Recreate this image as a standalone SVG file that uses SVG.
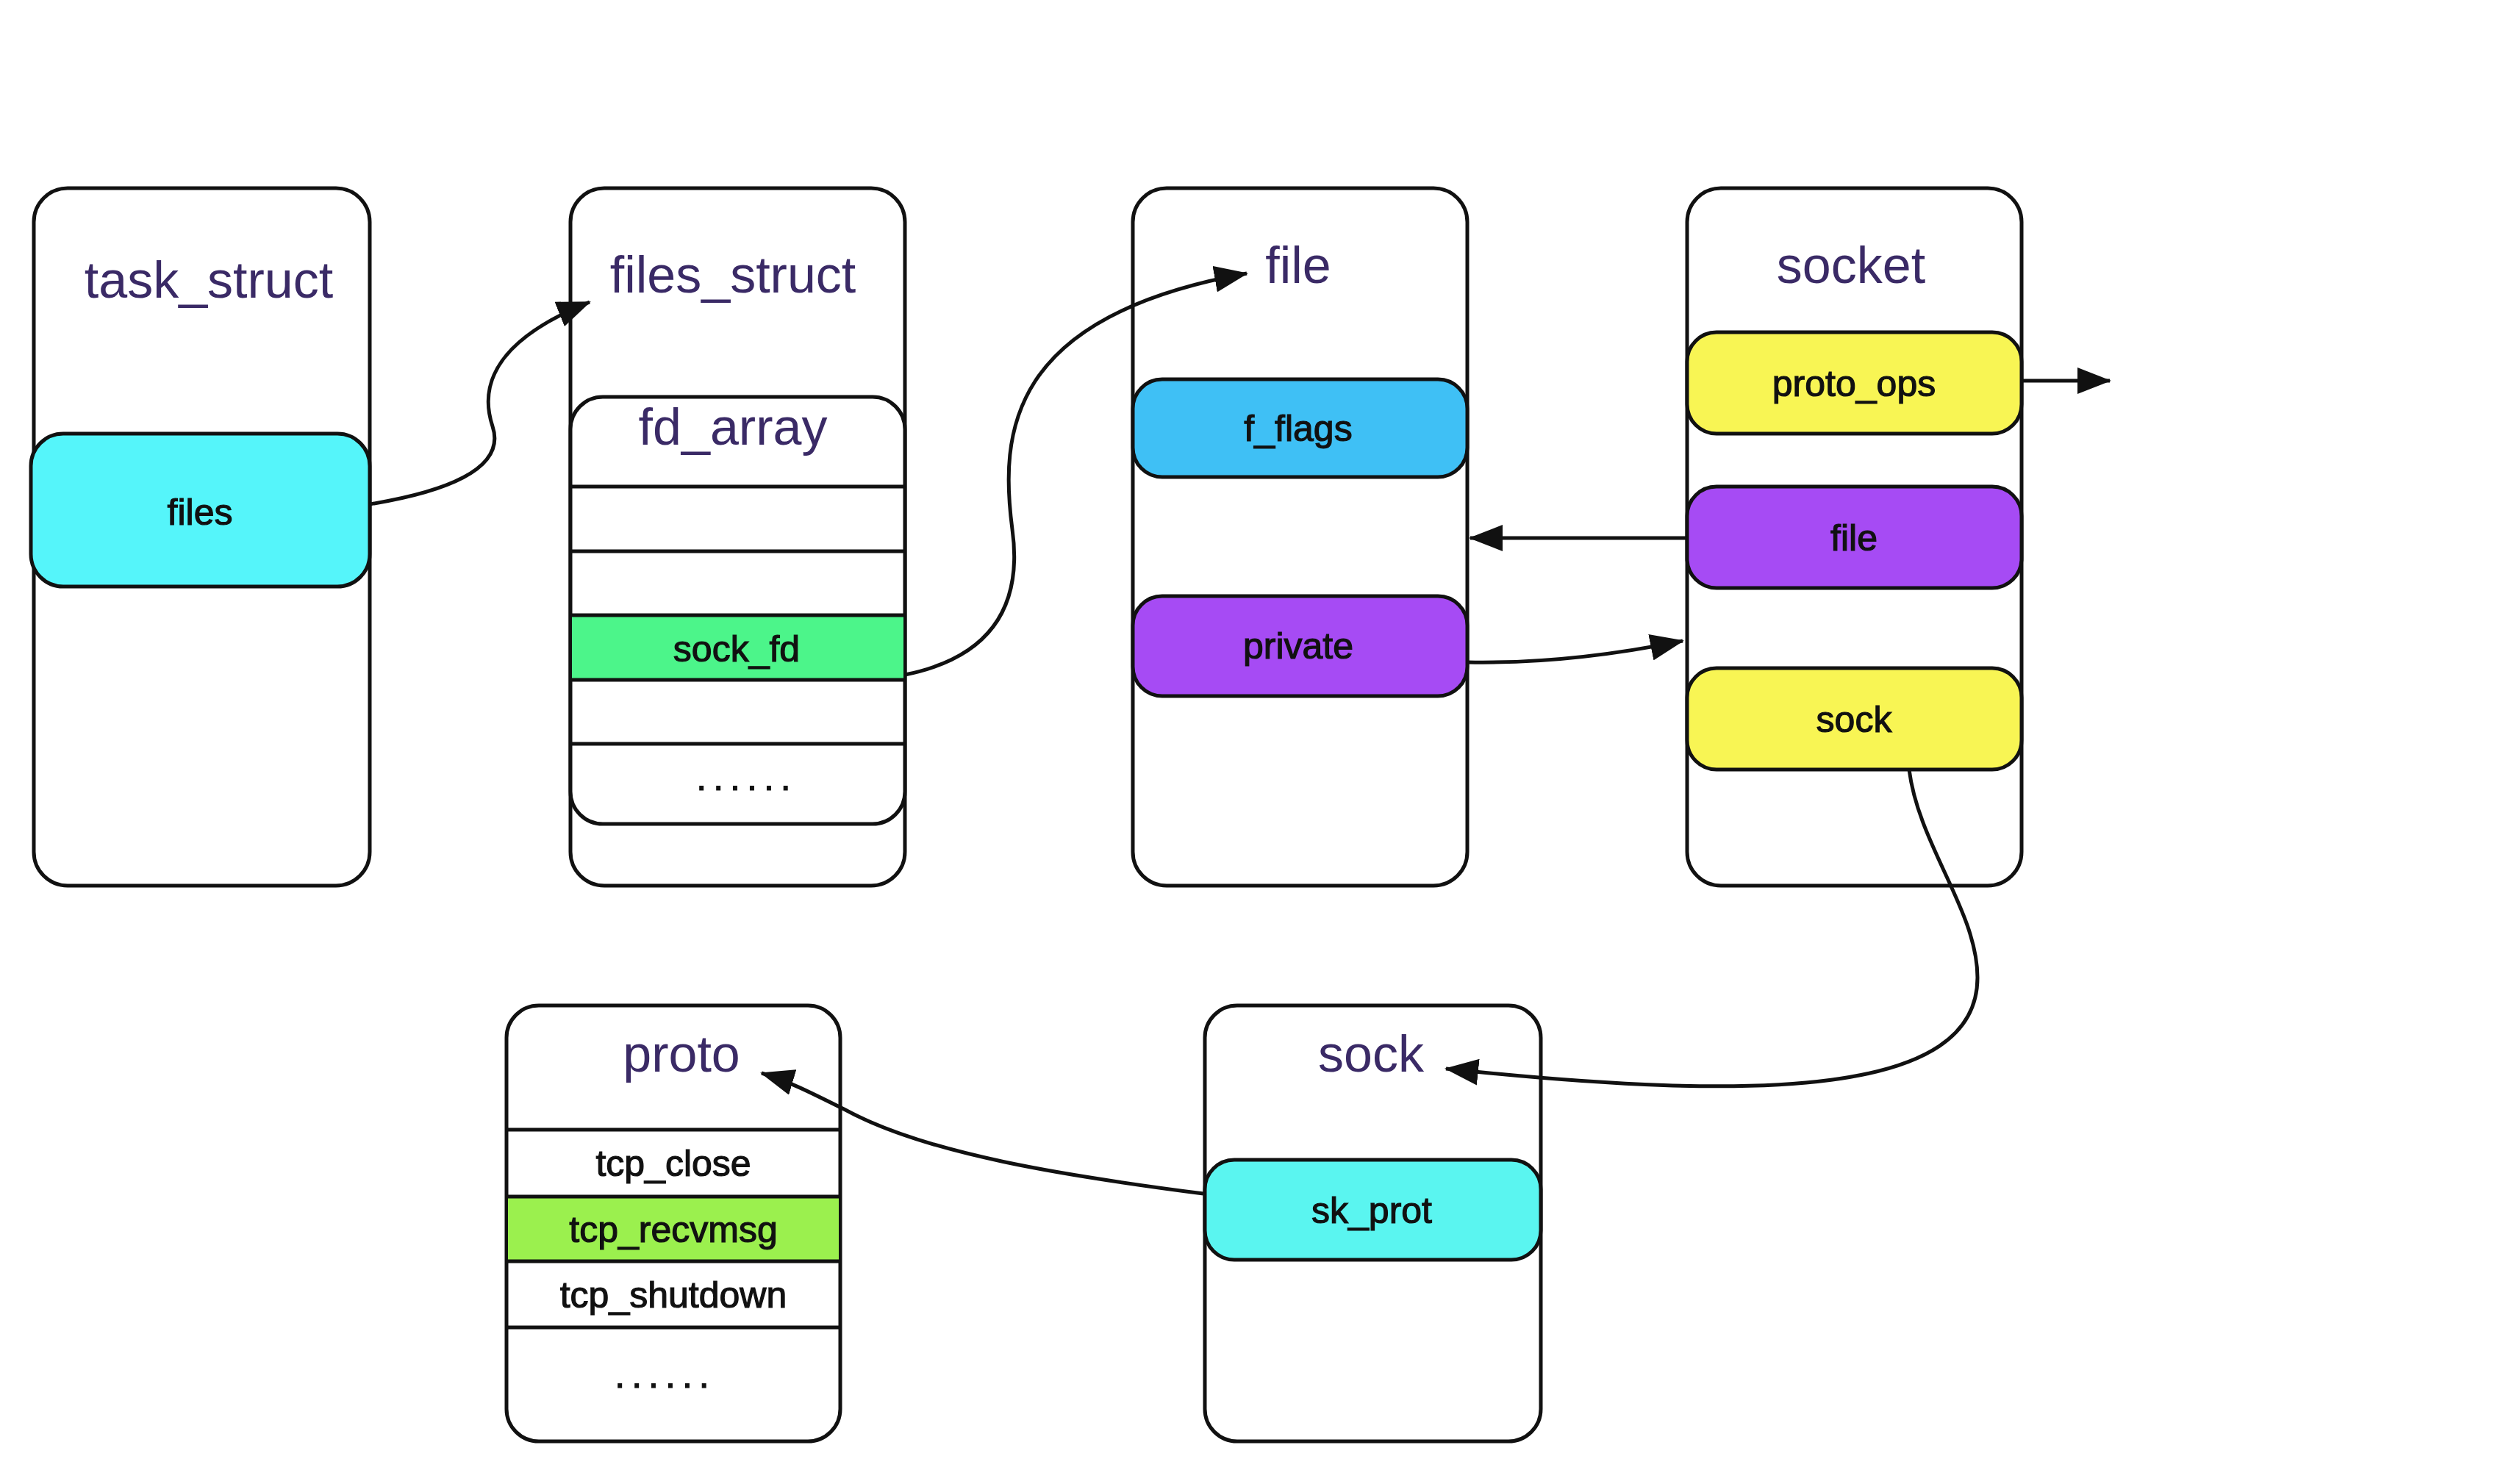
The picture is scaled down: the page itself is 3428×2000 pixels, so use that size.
<svg xmlns="http://www.w3.org/2000/svg" width="3428" height="2000" viewBox="0 0 3428 2000">
<style>
.box{fill:#fff;stroke:#111;stroke-width:5}
.line{stroke:#111;stroke-width:5;fill:none}
.title{font-family:"Liberation Sans",Arial,sans-serif;font-size:70px;fill:#3a2a66;text-anchor:middle}
.lbl{font-family:"Liberation Sans",Arial,sans-serif;font-size:50px;fill:#111;stroke:#111;stroke-width:1.2;text-anchor:middle}
.conn{stroke:#111;stroke-width:5;fill:none;marker-end:url(#ah)}
</style>
<defs>
<marker id="ah" markerUnits="userSpaceOnUse" markerWidth="48" markerHeight="36" refX="44" refY="18" orient="auto">
<path d="M0,0 L46,18 L0,36 z" fill="#111"/>
</marker>
</defs>
<rect width="3428" height="2000" fill="#fff"/>

<g id="task_struct">
<rect class="box" x="46" y="256" width="457" height="949" rx="46"/>
<text class="title" x="284" y="405">task_struct</text>
<rect class="box" x="42" y="590" width="461" height="208" rx="44" style="fill:#55f5fa"/>
<text class="lbl" x="272" y="714">files</text>
</g>

<g id="files_struct">
<rect class="box" x="776" y="256" width="455" height="949" rx="46"/>
<text class="title" x="997" y="398">files_struct</text>
<rect class="box" x="776" y="540" width="455" height="581" rx="44"/>
<text class="title" x="997" y="605">fd_array</text>
<rect x="778" y="837" width="451" height="88" fill="#4cf58a"/>
<line class="line" x1="776" y1="662" x2="1231" y2="662"/>
<line class="line" x1="776" y1="750" x2="1231" y2="750"/>
<line class="line" x1="776" y1="837" x2="1231" y2="837"/>
<line class="line" x1="776" y1="925" x2="1231" y2="925"/>
<line class="line" x1="776" y1="1012" x2="1231" y2="1012"/>
<text class="lbl" x="1002" y="900">sock_fd</text>
<text class="lbl" x="1016" y="1075" style="letter-spacing:9px">......</text>
</g>

<g id="file">
<rect class="box" x="1541" y="256" width="455" height="949" rx="46"/>
<text class="title" x="1766" y="385">file</text>
<rect class="box" x="1541" y="516" width="455" height="133" rx="40" style="fill:#3fc0f5"/>
<text class="lbl" x="1766" y="600">f_flags</text>
<rect class="box" x="1541" y="811" width="455" height="136" rx="40" style="fill:#a64bf4"/>
<text class="lbl" x="1766" y="896">private</text>
</g>

<g id="socket">
<rect class="box" x="2295" y="256" width="455" height="949" rx="46"/>
<text class="title" x="2518" y="385">socket</text>
<rect class="box" x="2295" y="452" width="455" height="138" rx="40" style="fill:#f8f554"/>
<text class="lbl" x="2522" y="539">proto_ops</text>
<rect class="box" x="2295" y="662" width="455" height="138" rx="40" style="fill:#a64bf4"/>
<text class="lbl" x="2522" y="749">file</text>
<rect class="box" x="2295" y="909" width="455" height="138" rx="40" style="fill:#f8f554"/>
<text class="lbl" x="2522" y="996">sock</text>
</g>

<g id="proto">
<rect class="box" x="689" y="1368" width="454" height="593" rx="44"/>
<text class="title" x="927" y="1458">proto</text>
<rect x="691" y="1628" width="450" height="88" fill="#9bf04e"/>
<line class="line" x1="689" y1="1537" x2="1143" y2="1537"/>
<line class="line" x1="689" y1="1628" x2="1143" y2="1628"/>
<line class="line" x1="689" y1="1716" x2="1143" y2="1716"/>
<line class="line" x1="689" y1="1806" x2="1143" y2="1806"/>
<text class="lbl" x="916" y="1600">tcp_close</text>
<text class="lbl" x="916" y="1690">tcp_recvmsg</text>
<text class="lbl" x="916" y="1779">tcp_shutdown</text>
<text class="lbl" x="905" y="1888" style="letter-spacing:9px">......</text>
</g>

<g id="sock">
<rect class="box" x="1639" y="1368" width="457" height="593" rx="44"/>
<text class="title" x="1865" y="1458">sock</text>
<rect class="box" x="1639" y="1578" width="457" height="136" rx="40" style="fill:#5af5f0"/>
<text class="lbl" x="1866" y="1664">sk_prot</text>
</g>

<g id="connectors">
<path class="conn" d="M503,686 C600,670 690,640 670,580 C650,520 680,460 802,411"/>
<path class="conn" d="M1231,918 C1320,900 1395,850 1377,720 C1360,590 1370,430 1696,372"/>
<path class="conn" d="M2295,732 L2000,732"/>
<path class="conn" d="M1996,901 C2100,903 2200,890 2289,872"/>
<path class="conn" d="M2750,518 L2870,518"/>
<path class="conn" d="M2597,1047 C2610,1150 2690,1240 2690,1330 C2690,1490 2400,1500 1967,1454"/>
<path class="conn" d="M1637,1624 C1450,1600 1260,1570 1150,1510 C1100,1485 1070,1470 1036,1460"/>
</g>
</svg>
